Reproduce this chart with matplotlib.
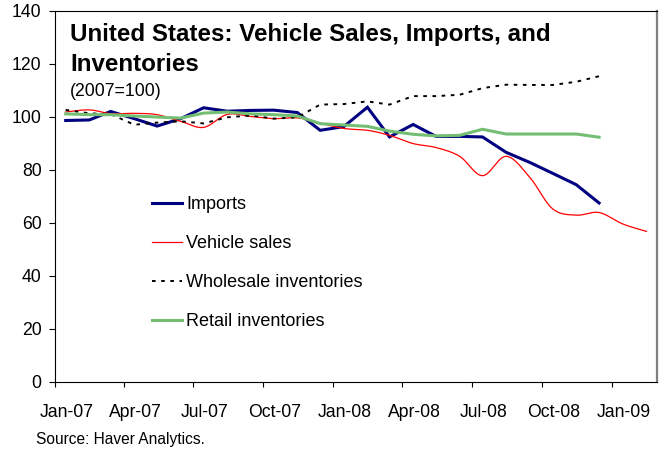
import datetime as dt
import numpy as np
import matplotlib
matplotlib.use("Agg")
import matplotlib.pyplot as plt
import matplotlib.dates as mdates

plt.rcParams['font.family'] = ['Liberation Sans', 'DejaVu Sans']
plt.rcParams['lines.scale_dashes'] = False

# ---------------- data (2007 = 100), monthly ----------------
months = ["2007-01", "2007-02", "2007-03", "2007-04", "2007-05", "2007-06",
          "2007-07", "2007-08", "2007-09", "2007-10", "2007-11", "2007-12",
          "2008-01", "2008-02", "2008-03", "2008-04", "2008-05", "2008-06",
          "2008-07", "2008-08", "2008-09", "2008-10", "2008-11", "2008-12",
          "2009-01", "2009-02"]

imports = [98.6, 98.8, 102.0, 99.3, 96.5, 99.3, 103.4, 102.1, 102.4, 102.5, 101.6, 94.9,
           96.3, 103.6, 92.4, 97.1, 92.6, 92.6, 92.4, 86.6, 82.8, 78.7, 74.4, 67.5]

vehicle_sales = [101.8, 102.6, 101.2, 101.3, 100.8, 98.3, 96.0, 100.9, 100.1, 99.3, 99.6, 97.6,
                 95.6, 94.9, 93.0, 89.9, 88.4, 85.1, 77.8, 85.1, 77.2, 65.3, 62.9, 63.9,
                 59.6, 56.8]

wholesale = [102.6, 101.3, 101.0, 97.0, 97.8, 98.3, 97.5, 99.8, 100.5, 99.3, 99.8, 104.6,
             104.8, 105.8, 104.6, 107.8, 107.8, 108.3, 110.8, 112.1, 112.0, 112.0, 113.2, 115.3]

retail = [101.1, 100.8, 100.8, 100.3, 99.9, 99.5, 101.4, 101.8, 101.1, 100.8, 100.3, 97.4,
          96.9, 96.4, 94.6, 93.4, 92.8, 93.0, 95.3, 93.5, 93.5, 93.5, 93.5, 92.3]

tick_labels = ["Jan-07", "Apr-07", "Jul-07", "Oct-07", "Jan-08",
               "Apr-08", "Jul-08", "Oct-08", "Jan-09"]
y_ticks = [0, 20, 40, 60, 80, 100, 120, 140]

# ---------------- helpers ----------------
def month_date(s, day):
    y, m = s.split("-")
    return dt.date(int(y), int(m), day)

x_all = mdates.date2num([month_date(m, 15) for m in months])


def smooth(x, y, n=30):
    """Catmull-Rom spline through the points (like Excel's smoothed line)."""
    x = np.asarray(x, float)
    y = np.asarray(y, float)
    px = np.concatenate([[x[0]], x, [x[-1]]])
    py = np.concatenate([[y[0]], y, [y[-1]]])
    xs, ys = [], []
    for i in range(1, len(px) - 2):
        p0x, p1x, p2x, p3x = px[i - 1], px[i], px[i + 1], px[i + 2]
        p0y, p1y, p2y, p3y = py[i - 1], py[i], py[i + 1], py[i + 2]
        c1x, c1y = p1x + (p2x - p0x) / 6, p1y + (p2y - p0y) / 6
        c2x, c2y = p2x - (p3x - p1x) / 6, p2y - (p3y - p1y) / 6
        t = np.linspace(0, 1, n, endpoint=False)
        b0, b1, b2, b3 = (1 - t) ** 3, 3 * (1 - t) ** 2 * t, 3 * (1 - t) * t ** 2, t ** 3
        xs.append(b0 * p1x + b1 * c1x + b2 * c2x + b3 * p2x)
        ys.append(b0 * p1y + b1 * c1y + b2 * c2y + b3 * p2y)
    xs.append([x[-1]])
    ys.append([y[-1]])
    return np.concatenate(xs), np.concatenate(ys)


# ---------------- figure ----------------
W, H = 664, 454
fig = plt.figure(figsize=(W / 100, H / 100), dpi=100)
ax = fig.add_axes([55 / W, 1 - 382 / H, 602 / W, 371.3 / H])

ax.plot(x_all[:len(imports)], imports, color="#000080", lw=2.2,
        solid_joinstyle="miter", label="Imports", zorder=3)
sx, sy = smooth(x_all[:len(vehicle_sales)], vehicle_sales)
ax.plot(sx, sy, color="#FF0000", lw=0.9, label="Vehicle sales", zorder=4)
ax.plot(x_all[:len(wholesale)], wholesale, color="black", lw=1.4,
        dashes=(2.6, 4.0), label="Wholesale inventories", zorder=5)
ax.plot(x_all[:len(retail)], retail, color="#74BE74", lw=2.2,
        label="Retail inventories", zorder=6)

ax.set_xlim(mdates.date2num(dt.date(2007, 1, 1)), mdates.date2num(dt.date(2009, 3, 1)))
ax.set_ylim(0, 140)

# x ticks: marks at the 1st of the month, labels centred a little later
tick_months = [months[i] for i in range(0, 25, 3)]
ax.set_xticks(mdates.date2num([month_date(m, 1) for m in tick_months]))
ax.set_xticklabels([])
ax.set_xticks(mdates.date2num([month_date(m, 16) for m in tick_months]), minor=True)
ax.set_xticklabels(tick_labels, minor=True)
ax.tick_params(axis="x", which="major", direction="out", length=3.8, width=0.8, color="black")
ax.tick_params(axis="x", which="minor", length=0, pad=16, labelsize=12.7)

ax.set_yticks(y_ticks)
ax.set_yticklabels([str(v) for v in y_ticks])
ax.tick_params(axis="y", direction="out", length=4, width=0.8, pad=5.6, labelsize=12.7)

for side in ("left", "bottom", "top"):
    ax.spines[side].set_color("black")
    ax.spines[side].set_linewidth(0.8)
ax.spines["right"].set_color("#808080")
ax.spines["right"].set_linewidth(1.6)

leg = ax.legend(loc="upper left", bbox_to_anchor=(151.7 / W, 1 - 196 / H),
                bbox_transform=fig.transFigure, frameon=False, fontsize=13,
                handlelength=1.66, handletextpad=0.25, labelspacing=1.22,
                borderpad=0, borderaxespad=0)

fig.text(70 / W, 1 - 41.5 / H, "United States: Vehicle Sales, Imports, and",
         fontsize=17.4, fontweight="bold", va="baseline", ha="left")
fig.text(70 / W, 1 - 71 / H, "Inventories",
         fontsize=17.4, fontweight="bold", va="baseline", ha="left")
fig.text(70 / W, 1 - 96 / H, "(2007=100)", fontsize=12.7, va="baseline", ha="left")
fig.text(36 / W, 1 - 444 / H, "Source: Haver Analytics.", fontsize=11.2,
         va="baseline", ha="left")

fig.savefig("out.png", dpi=100)
